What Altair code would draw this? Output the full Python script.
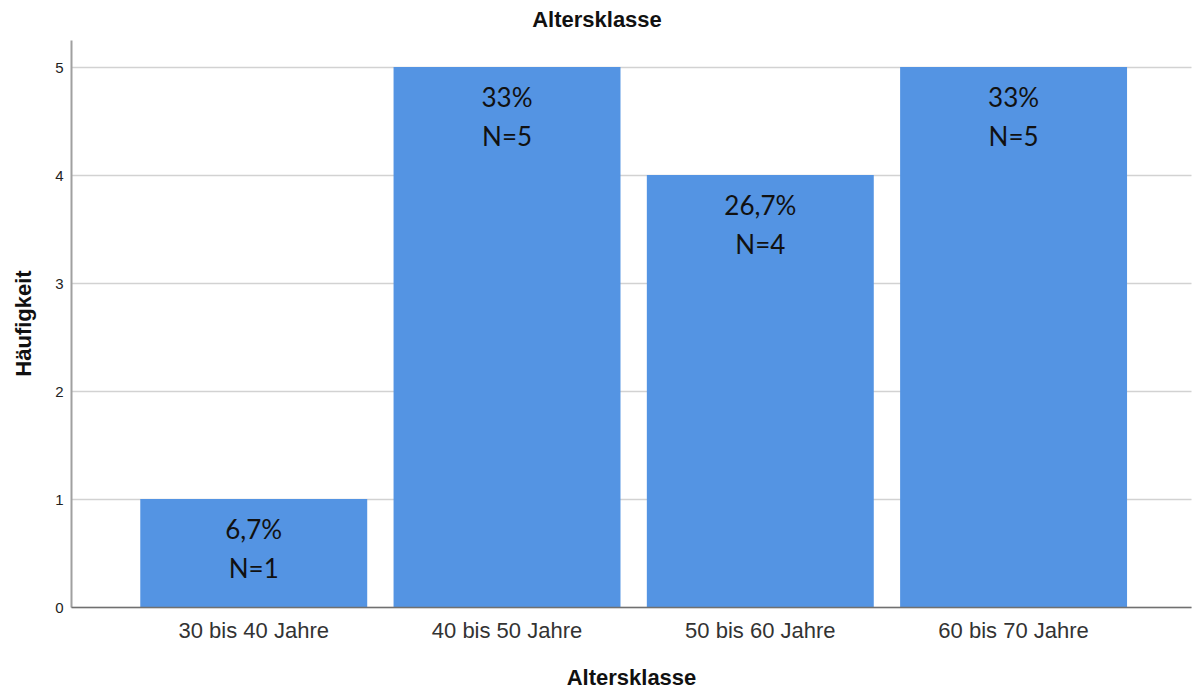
import altair as alt
import pandas as pd

# Age classes and their counts / shares
klassen = ["30 bis 40 Jahre", "40 bis 50 Jahre", "50 bis 60 Jahre", "60 bis 70 Jahre"]
haeufigkeit = [1, 5, 4, 5]
prozent = ["6,7%", "33%", "26,7%", "33%"]

df = pd.DataFrame({
    "Altersklasse": klassen,
    "Häufigkeit": haeufigkeit,
    "Prozent": prozent,
    "N": [f"N={n}" for n in haeufigkeit],
})

BAR_COLOR = "#5494E3"
LABEL_FONT = "Lato"
AXIS_FONT = "Liberation Sans"

x_enc = alt.X(
    "Altersklasse:N",
    sort=klassen,
    scale=alt.Scale(paddingInner=0.104, paddingOuter=0.263, align=0.52),
    axis=alt.Axis(
        title="Altersklasse",
        labelAngle=0,
        labelFont=AXIS_FONT,
        labelFontSize=22,
        labelColor="#333333",
        labelPadding=13,
        ticks=False,
        domainColor="#707070",
        domainWidth=1.5,
        titleFont=AXIS_FONT,
        titleFontSize=22,
        titleFontWeight="bold",
        titleColor="#111111",
        titleBaseline="middle",
        titleY=70,
        zindex=1,
    ),
)

y_enc = alt.Y(
    "Häufigkeit:Q",
    scale=alt.Scale(domain=[0, 5.25], nice=False),
    axis=alt.Axis(
        title="Häufigkeit",
        values=[0, 1, 2, 3, 4, 5],
        format="d",
        labelFont=AXIS_FONT,
        labelFontSize=15,
        labelColor="#222222",
        labelPadding=8,
        ticks=False,
        domainColor="#a0a0a0",
        domainWidth=2,
        grid=True,
        gridColor="#d2d2d2",
        gridWidth=1.5,
        titleFont=AXIS_FONT,
        titleFontSize=22,
        titleFontWeight="bold",
        titleColor="#111111",
        titleAngle=270,
        titleBaseline="middle",
        titleX=-48,
        titleY=283,
        zindex=0,
    ),
)

base = alt.Chart(df)

bars = base.mark_bar(color=BAR_COLOR).encode(x=x_enc, y=y_enc)

pct_text = base.mark_text(
    font=LABEL_FONT, fontSize=26, color="#111111", baseline="middle", dy=32
).encode(x=alt.X("Altersklasse:N", sort=klassen), y="Häufigkeit:Q", text="Prozent:N")

n_text = base.mark_text(
    font=LABEL_FONT, fontSize=26, color="#111111", baseline="middle", dy=71
).encode(x=alt.X("Altersklasse:N", sort=klassen), y="Häufigkeit:Q", text="N:N")

chart = (
    alt.layer(bars, pct_text, n_text)
    .properties(
        width=1120,
        height=567,
        autosize=alt.AutoSizeParams(type="none"),
        padding={"left": 71, "top": 40, "right": 3, "bottom": 81},
        background="white",
        title=alt.TitleParams(
            "Altersklasse",
            font=AXIS_FONT,
            fontSize=22,
            fontWeight="bold",
            color="#111111",
            anchor="middle",
            dx=-34,
            offset=8,
        ),
    )
    .configure_view(stroke=None)
)

chart.save("out.html", embed_options={"renderer": "svg", "actions": False})
